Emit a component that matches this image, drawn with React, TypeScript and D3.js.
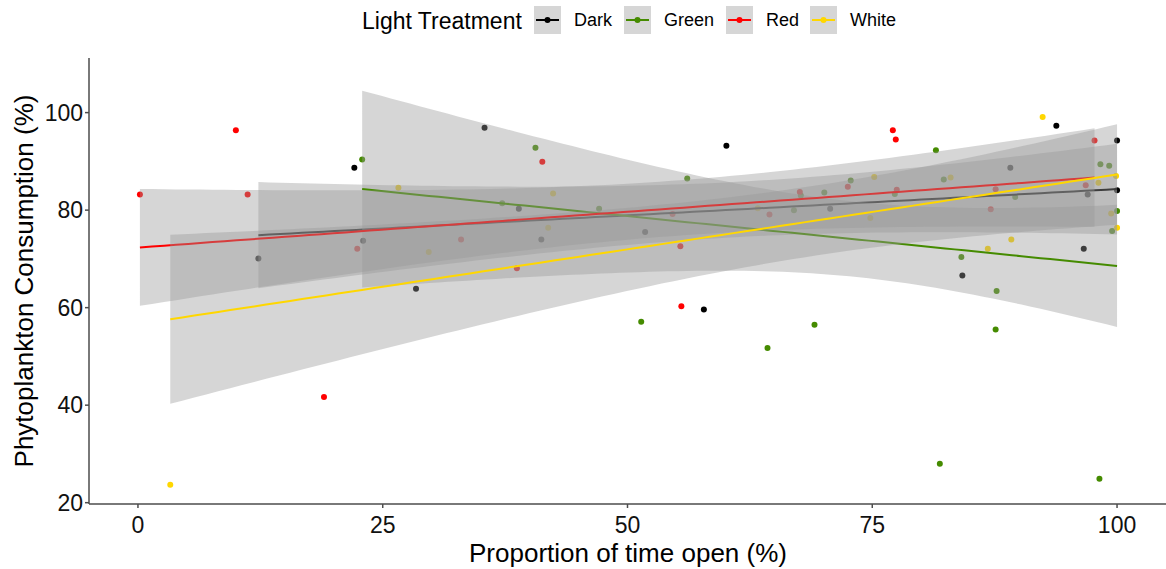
import React from "react";
import * as d3 from "d3";

// ---------- data ----------
const groups = ["Dark", "Green", "Red", "White"];
const groupColors = ["#000000", "#458B00", "#FF0000", "#FFD700"];

const darkX = [22.1, 12.3, 23.0, 35.4, 38.9, 41.2, 51.8, 28.4, 60.1, 70.7, 84.2, 57.8, 93.8, 100, 89.1, 97.0, 100, 96.6];
const darkY = [88.7, 70.1, 73.7, 96.9, 80.3, 74.0, 75.5, 63.9, 93.2, 80.3, 66.6, 59.6, 97.3, 94.3, 88.7, 83.2, 84.1, 72.1];

const greenX = [22.9, 40.6, 56.1, 37.2, 47.1, 51.4, 81.5, 72.8, 82.3, 67.7, 70.1, 77.3, 67.0, 84.1, 69.1, 64.3, 98.3, 99.2, 89.6, 100, 99.5, 87.7, 87.6, 81.9, 98.2];
const greenY = [90.4, 92.8, 86.5, 81.4, 80.3, 57.1, 92.3, 86.1, 86.3, 83.0, 83.6, 83.3, 80.0, 70.4, 56.5, 51.7, 89.4, 89.1, 82.7, 79.8, 75.7, 63.4, 55.5, 28.0, 24.9];

const redX = [10.0, 0.2, 11.2, 22.4, 41.3, 54.6, 33.0, 55.4, 38.7, 55.5, 77.1, 77.4, 72.5, 67.6, 77.5, 64.5, 97.7, 87.6, 96.8, 87.1, 19.0];
const redY = [96.4, 83.2, 83.2, 72.1, 89.9, 79.2, 74.0, 72.6, 68.1, 60.3, 96.4, 94.5, 84.8, 83.7, 84.2, 79.1, 94.3, 84.3, 85.1, 80.2, 41.7];

const whiteX = [26.6, 42.4, 41.9, 29.7, 75.2, 83.0, 63.3, 74.8, 92.4, 99.9, 98.1, 99.4, 100, 89.2, 86.8, 3.3];
const whiteY = [84.6, 83.4, 76.4, 71.4, 86.8, 86.7, 80.4, 78.4, 99.1, 87.0, 85.6, 79.3, 76.4, 74.0, 72.1, 23.7];

const seriesX = [darkX, greenX, redX, whiteX];
const seriesY = [darkY, greenY, redY, whiteY];

const xTicks = [0, 25, 50, 75, 100];
const yTicks = [20, 40, 60, 80, 100];
const xDomain = [-5, 105];
const yDomain = [19.73, 111.2];

const xTitle = "Proportion of time open (%)";
const yTitle = "Phytoplankton Consumption (%)";
const legendTitle = "Light Treatment";

// ---------- layout ----------
const W = 1166;
const H = 569;
const panel = { left: 89, right: 1166, top: 58, bottom: 504 };
const FONT = "Liberation Sans, Arial, sans-serif";

// t quantile (Cornish-Fisher expansion), 95% two-sided
function tQuantile(df: number) {
  const z = 1.959964;
  const z3 = z ** 3, z5 = z ** 5, z7 = z ** 7;
  return (
    z +
    (z3 + z) / (4 * df) +
    (5 * z5 + 16 * z3 + 3 * z) / (96 * df * df) +
    (3 * z7 + 19 * z5 + 17 * z3 - 15 * z) / (384 * df ** 3)
  );
}

function lmFit(xs: number[], ys: number[]) {
  const n = xs.length;
  const mx = d3.mean(xs)!;
  const my = d3.mean(ys)!;
  let sxy = 0, sxx = 0;
  for (let i = 0; i < n; i++) {
    sxy += (xs[i] - mx) * (ys[i] - my);
    sxx += (xs[i] - mx) ** 2;
  }
  const b = sxy / sxx;
  const a = my - b * mx;
  let rss = 0;
  for (let i = 0; i < n; i++) rss += (ys[i] - (a + b * xs[i])) ** 2;
  const s = Math.sqrt(rss / (n - 2));
  const t = tQuantile(n - 2);
  const [x0, x1] = d3.extent(xs) as [number, number];
  return d3.range(80).map((i) => {
    const xv = x0 + ((x1 - x0) * i) / 79;
    const fit = a + b * xv;
    const se = s * Math.sqrt(1 / n + (xv - mx) ** 2 / sxx);
    return { x: xv, y: fit, lo: fit - t * se, hi: fit + t * se };
  });
}

export default function App() {
  const x = d3.scaleLinear().domain(xDomain).range([panel.left, panel.right]);
  const y = d3.scaleLinear().domain(yDomain).range([panel.bottom, panel.top]);

  const fits = groups.map((_, g) => lmFit(seriesX[g], seriesY[g]));
  const area = d3
    .area<{ x: number; lo: number; hi: number }>()
    .x((d) => x(d.x))
    .y0((d) => y(d.lo))
    .y1((d) => y(d.hi));
  const line = d3
    .line<{ x: number; y: number }>()
    .x((d) => x(d.x))
    .y((d) => y(d.y));

  const legendKeyX = [534, 624, 726, 810];

  return (
    <svg
      width={W}
      height={H}
      style={{ position: "absolute", left: 0, top: 0, background: "#fff" }}
      fontFamily={FONT}
    >
      <rect width={W} height={H} fill="#fff" />
      {/* points */}
      {groups.map((g, gi) =>
        seriesX[gi].map((xv, i) => (
          <circle key={g + i} cx={x(xv)} cy={y(seriesY[gi][i])} r={3} fill={groupColors[gi]} />
        ))
      )}
      {/* smooths: ribbon + line per group, in group order */}
      {groups.map((g, gi) => (
        <g key={g}>
          <path d={area(fits[gi]) || ""} fill="#999999" fillOpacity={0.4} />
          <path d={line(fits[gi]) || ""} fill="none" stroke={groupColors[gi]} strokeWidth={2} />
        </g>
      ))}
      {/* axes */}
      <line x1={panel.left} x2={panel.left} y1={panel.top} y2={panel.bottom} stroke="#4d4d4d" strokeWidth={1.5} />
      <line x1={panel.left} x2={panel.right} y1={panel.bottom} y2={panel.bottom} stroke="#4d4d4d" strokeWidth={1.5} />
      {xTicks.map((t) => (
        <g key={"xt" + t}>
          <line x1={x(t)} x2={x(t)} y1={panel.bottom} y2={panel.bottom + 4} stroke="#4d4d4d" strokeWidth={1.5} />
          <text x={x(t)} y={533} textAnchor="middle" fontSize={23} fill="#111">
            {t}
          </text>
        </g>
      ))}
      {yTicks.map((t) => (
        <g key={"yt" + t}>
          <line x1={panel.left - 4} x2={panel.left} y1={y(t)} y2={y(t)} stroke="#4d4d4d" strokeWidth={1.5} />
          <text x={panel.left - 6} y={y(t)} dy="0.36em" textAnchor="end" fontSize={23} fill="#111">
            {t}
          </text>
        </g>
      ))}
      <text x={628} y={562} textAnchor="middle" fontSize={26} fill="#000">
        {xTitle}
      </text>
      <text
        transform={`translate(33,${(panel.top + panel.bottom) / 2}) rotate(-90)`}
        textAnchor="middle"
        fontSize={26}
        fill="#000"
      >
        {yTitle}
      </text>
      {/* legend */}
      <text x={362} y={29} fontSize={23} fill="#000">
        {legendTitle}
      </text>
      {groups.map((g, gi) => {
        const kx = legendKeyX[gi];
        return (
          <g key={"lg" + g}>
            <rect x={kx} y={6} width={27} height={28} fill="#999999" fillOpacity={0.4} />
            <line x1={kx + 2} x2={kx + 25} y1={20} y2={20} stroke={groupColors[gi]} strokeWidth={2} />
            <circle cx={kx + 13.5} cy={20} r={3} fill={groupColors[gi]} />
            <text x={kx + 40} y={20} dy="0.36em" fontSize={18} fill="#000">
              {g}
            </text>
          </g>
        );
      })}
    </svg>
  );
}
